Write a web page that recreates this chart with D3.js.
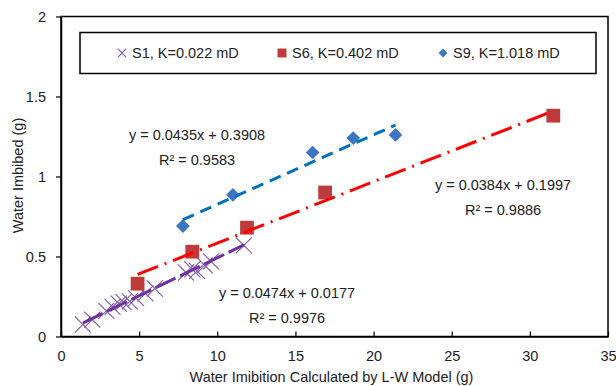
<!DOCTYPE html>
<html lang="en">
<head>
<meta charset="utf-8">
<script src="https://d3js.org/d3.v7.min.js"></script>
<style>
body { margin: 0; background: #fff; }
svg text { font-family: "Liberation Sans", Arial, sans-serif; fill: #222; }
</style>
</head>
<body>
<div id="chart"></div>
<script>
// S1, K=0.022 mD
var s1X = [1.4, 2.0, 2.9, 3.3, 3.7, 4.0, 4.4, 4.8, 5.4, 6.0, 8.0, 8.4, 8.7, 9.2, 9.6, 11.7];
var s1Y = [0.075, 0.105, 0.16, 0.185, 0.205, 0.215, 0.22, 0.24, 0.27, 0.30, 0.40, 0.42, 0.41, 0.445, 0.47, 0.57];
// S6, K=0.402 mD
var s6X = [4.9, 8.4, 11.9, 16.9, 31.5];
var s6Y = [0.33, 0.53, 0.68, 0.90, 1.38];
// S9, K=1.018 mD
var s9X = [7.8, 11.0, 16.1, 18.7, 21.4];
var s9Y = [0.69, 0.885, 1.15, 1.24, 1.26];

var seriesNames = ["S1, K=0.022 mD", "S6, K=0.402 mD", "S9, K=1.018 mD"];
var slopes = [0.0474, 0.0384, 0.0435];
var intercepts = [0.0177, 0.1997, 0.3908];
var eqLabels = ["y = 0.0474x + 0.0177", "y = 0.0384x + 0.1997", "y = 0.0435x + 0.3908"];
var r2Labels = ["R\u00b2 = 0.9976", "R\u00b2 = 0.9886", "R\u00b2 = 0.9583"];
var xTicks = [0, 5, 10, 15, 20, 25, 30, 35];
var yTicks = [0, 0.5, 1, 1.5, 2];

var width = 616, height = 386;
var margin = {top: 16.5, right: 8, bottom: 49.5, left: 61};

var x = d3.scaleLinear().domain([0, 35]).range([margin.left, width - margin.right]);
var y = d3.scaleLinear().domain([0, 2]).range([height - margin.bottom, margin.top]);

var svg = d3.select("#chart").append("svg")
    .attr("width", width)
    .attr("height", height);

// plot area border
svg.append("rect")
    .attr("x", x(0)).attr("y", y(2))
    .attr("width", x(35) - x(0)).attr("height", y(0) - y(2))
    .attr("fill", "none").attr("stroke", "#000").attr("stroke-width", 1.5);

// axes
var xAxis = svg.append("g")
    .attr("transform", "translate(0," + y(0) + ")")
    .call(d3.axisBottom(x).tickValues(xTicks).tickSizeInner(-5).tickSizeOuter(0).tickPadding(14));
var yAxis = svg.append("g")
    .attr("transform", "translate(" + x(0) + ",0)")
    .call(d3.axisLeft(y).tickValues(yTicks).tickSizeInner(5).tickSizeOuter(0).tickPadding(10)
      .tickFormat(function(d) { return d; }));
[xAxis, yAxis].forEach(function(g) {
  g.select(".domain").attr("stroke", "#000").attr("stroke-width", 1.5);
  g.selectAll(".tick line").attr("stroke", "#000").attr("stroke-width", 1.2);
  g.selectAll(".tick text").attr("font-size", "14.5px").attr("fill", "#222")
    .attr("font-family", "Liberation Sans, Arial, sans-serif");
});

// axis titles
svg.append("text")
    .attr("x", (x(0) + x(35)) / 2 - 3).attr("y", 382)
    .attr("text-anchor", "middle").attr("font-size", "14.5px")
    .text("Water Imibition Calculated by L-W Model (g)");
svg.append("text")
    .attr("transform", "translate(23," + ((y(0) + y(2)) / 2 - 1) + ") rotate(-90)")
    .attr("text-anchor", "middle").attr("font-size", "14.5px")
    .text("Water Imbibed (g)");

// markers
var s1Color = "#7B5AAE", s6Color = "#BF3B3B", s9Color = "#3C75C3";
var xMark = d3.symbol().type(d3.symbolX).size(170);
var sqMark = d3.symbol().type(d3.symbolSquare).size(190);
var dmMark = d3.symbol().type(d3.symbolDiamond2).size(120);

svg.append("g").selectAll("path").data(d3.range(s1X.length)).enter().append("path")
    .attr("transform", function(i) { return "translate(" + x(s1X[i]) + "," + y(s1Y[i]) + ")"; })
    .attr("d", xMark).attr("fill", "none").attr("stroke", s1Color).attr("stroke-width", 1.1);
svg.append("g").selectAll("path").data(d3.range(s6X.length)).enter().append("path")
    .attr("transform", function(i) { return "translate(" + x(s6X[i]) + "," + y(s6Y[i]) + ")"; })
    .attr("d", sqMark).attr("fill", s6Color);
svg.append("g").selectAll("path").data(d3.range(s9X.length)).enter().append("path")
    .attr("transform", function(i) { return "translate(" + x(s9X[i]) + "," + y(s9Y[i]) + ")"; })
    .attr("d", dmMark).attr("fill", s9Color);

// trendlines across each series' x range
var trendColors = ["#7030A0", "#FF0000", "#0070C0"];
var trendDash = ["22,5", "22,7,2,7", "12,7"];
var xsets = [s1X, s6X, s9X];
var line = d3.line().x(function(d) { return x(d[0]); }).y(function(d) { return y(d[1]); });
xsets.forEach(function(xs, k) {
  var ext = d3.extent(xs);
  var pts = ext.map(function(v) { return [v, slopes[k] * v + intercepts[k]]; });
  svg.append("path").datum(pts)
      .attr("d", line).attr("fill", "none")
      .attr("stroke", trendColors[k]).attr("stroke-width", 3)
      .attr("stroke-dasharray", trendDash[k]);
});

// trendline labels
var eqPos = [[287, 293], [503, 185], [197, 135]];
eqPos.forEach(function(p, k) {
  svg.append("text").attr("x", p[0]).attr("y", p[1] + 5)
      .attr("text-anchor", "middle").attr("font-size", "14.5px").text(eqLabels[k]);
  svg.append("text").attr("x", p[0]).attr("y", p[1] + 30)
      .attr("text-anchor", "middle").attr("font-size", "14.5px").text(r2Labels[k]);
});

// legend
var legend = svg.append("g");
legend.append("rect")
    .attr("x", 80).attr("y", 32.5).attr("width", 516).attr("height", 41)
    .attr("fill", "#fff").attr("stroke", "#000").attr("stroke-width", 1.5);
var legX = [122, 282, 443];
var legMarks = [d3.symbol().type(d3.symbolX).size(45), d3.symbol().type(d3.symbolSquare).size(80),
                d3.symbol().type(d3.symbolDiamond2).size(50)];
var legColors = [s1Color, s6Color, s9Color];
seriesNames.forEach(function(name, k) {
  var m = legend.append("path")
      .attr("transform", "translate(" + legX[k] + ",53)")
      .attr("d", legMarks[k]);
  if (k === 0) m.attr("fill", "none").attr("stroke", legColors[k]).attr("stroke-width", 1.2);
  else m.attr("fill", legColors[k]);
  legend.append("text").attr("x", legX[k] + 10).attr("y", 58)
      .attr("font-size", "14.5px").text(name);
});
</script>
</body>
</html>
